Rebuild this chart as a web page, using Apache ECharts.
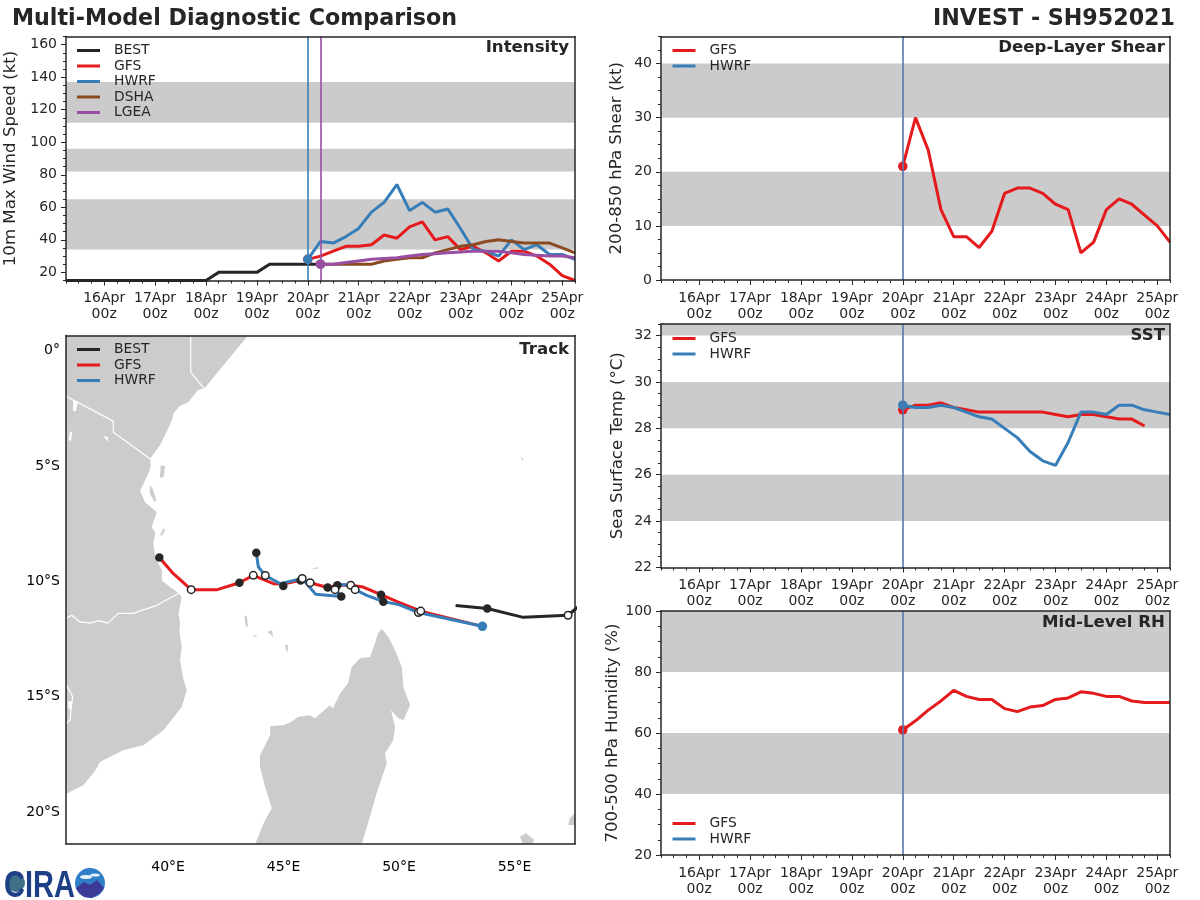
<!DOCTYPE html>
<html>
<head>
<meta charset="utf-8">
<title>Multi-Model Diagnostic Comparison</title>
<script src="https://cdn.jsdelivr.net/npm/echarts@6/dist/echarts.min.js"></script>
<style>
html, body { margin: 0; padding: 0; background: #fff; }
#main { width: 1200px; height: 900px; }
</style>
</head>
<body>
<div id="main"></div>
<script>
// hours after 16Apr 00z
const dayLabels = ['16Apr', '17Apr', '18Apr', '19Apr', '20Apr', '21Apr', '22Apr', '23Apr', '24Apr', '25Apr']

// intensity (kt), 6-hourly. BEST from 15Apr 06z, models from 20Apr 00z / 06z
const bestWind = [15, 15, 15, 15, 15, 15, 15, 15, 15, 15, 15, 15, 20, 20, 20, 20, 25, 25, 25, 25, 25]
const gfsWind = [28, 30, 33, 36, 36, 37, 43, 41, 48, 51, 40, 42, 34, 36, 32, 27, 33, 33, 30, 25, 18, 15]
const hwrfWind = [28, 39, 38, 42, 47, 57, 63, 74, 58, 63, 57, 59, 47, 34, 33, 30, 40, 34, 37, 31, 31, 28]
const dshaWind = [25, 25, 25, 25, 25, 27, 28, 29, 29, 32, 34, 36, 37, 39, 40, 39, 38, 38, 38, 35, 32]
const lgeaWind = [25, 25, 26, 27, 28, 28.5, 29, 30, 31, 31.5, 32, 32.5, 33, 33, 33, 32, 31, 30.5, 30, 30, 29]

const gfsShear = [21, 30, 24, 13, 8, 8, 6, 9, 16, 17, 17, 16, 14, 13, 5, 7, 13, 15, 14, 12, 10, 7]
const gfsSst = [28.8, 29, 29, 29.1, 28.9, 28.8, 28.7, 28.7, 28.7, 28.7, 28.7, 28.7, 28.6, 28.5, 28.6, 28.6, 28.5, 28.4, 28.4, 28.1]
const hwrfSst = [29, 28.9, 28.9, 29, 28.9, 28.7, 28.5, 28.4, 28, 27.6, 27, 26.6, 26.4, 27.4, 28.7, 28.7, 28.6, 29, 29, 28.8, 28.7, 28.6]
const gfsRh = [61, 64, 67.5, 70.5, 74, 72, 71, 71, 68, 67, 68.5, 69, 71, 71.5, 73.5, 73, 72, 72, 70.5, 70, 70, 70]

const windBands = [[34, 65], [82, 96], [112, 137]]
const shearBands = [[10, 20], [30, 40]]
const sstBands = [[24, 26], [28, 30], [32, 32.5]]
const rhBands = [[40, 60], [80, 100]]

// track, [lon, lat]
const bestTrack = [[58.0, -10.9], [57.32, -11.47], [55.38, -11.56], [53.82, -11.18], [52.45, -11.05]]
const gfsTrack = [[53.61, -11.95], [50.94, -11.29], [49.97, -10.9], [49.22, -10.58], [48.45, -10.25], [47.91, -10.17], [47.33, -10.17], [46.91, -10.27], [46.15, -10.06], [45.74, -9.96], [44.99, -10.12], [44.56, -10.1], [43.69, -9.74], [43.09, -10.06], [42.13, -10.36], [41.0, -10.36], [40.23, -9.67], [39.62, -8.97]]
const hwrfTrack = [[53.61, -11.95], [50.84, -11.35], [49.97, -11.0], [49.32, -10.88], [48.6, -10.61], [48.1, -10.36], [47.66, -10.14], [47.32, -10.17], [47.23, -10.36], [47.5, -10.66], [46.39, -10.56], [45.81, -9.88], [44.85, -10.1], [44.21, -9.75], [43.91, -9.38], [43.82, -8.76]]
const filledPoints = [[39.62, -8.97], [43.09, -10.06], [44.99, -10.2], [45.74, -9.96], [46.91, -10.27], [47.33, -10.17], [47.5, -10.66], [49.22, -10.58], [49.32, -10.88], [43.82, -8.76], [53.82, -11.18]]
const openPoints = [[41.0, -10.36], [43.69, -9.74], [44.21, -9.75], [45.81, -9.88], [46.15, -10.06], [47.23, -10.36], [47.91, -10.17], [48.1, -10.36], [50.84, -11.35], [50.94, -11.29], [57.32, -11.47]]

// land outlines, [lon, lat]
const africa = [[35.58, 0.65], [43.46, 0.65], [41.56, -1.66], [41.3, -1.7], [41.1, -1.95], [40.88, -2.24], [40.5, -2.4], [40.23, -2.74], [40.16, -3.03], [39.97, -3.46], [39.65, -4.11], [39.22, -4.69], [39.25, -5.0], [39.15, -5.32], [38.79, -6.06], [39.0, -6.57], [39.51, -7.0], [39.29, -7.65], [39.45, -7.9], [39.36, -8.35], [39.44, -8.95], [39.73, -9.52], [39.73, -9.96], [40.16, -10.3], [40.45, -10.52], [40.59, -10.68], [40.45, -11.39], [40.52, -11.8], [40.49, -12.12], [40.59, -12.84], [40.52, -13.4], [40.64, -14.14], [40.81, -14.72], [40.59, -15.44], [39.8, -16.45], [38.93, -17.1], [38.06, -17.32], [37.06, -17.82], [36.85, -18.2], [36.33, -18.83], [35.68, -19.16], [35.58, -19.22]]
const madagascar = [[49.25, -12.05], [49.54, -12.41], [49.83, -12.99], [50.12, -13.71], [50.19, -14.58], [50.48, -15.37], [50.19, -16.02], [49.97, -15.93], [49.65, -15.58], [49.83, -16.31], [49.75, -16.88], [49.39, -17.45], [49.47, -17.88], [49.03, -19.18], [48.74, -20.2], [48.39, -21.38], [43.77, -21.38], [44.2, -20.35], [44.49, -19.83], [44.2, -18.9], [43.98, -18.04], [43.98, -17.53], [44.42, -16.67], [44.42, -16.28], [44.99, -16.23], [45.3, -16.1], [45.64, -15.87], [46.15, -15.8], [46.36, -15.93], [47.01, -15.37], [47.14, -15.5], [47.45, -14.85], [47.79, -14.42], [47.95, -13.71], [48.31, -13.33], [48.74, -13.28], [48.96, -12.68], [49.09, -12.25]]
const islands = [
    [[39.68, -4.98], [39.87, -5.0], [39.8, -5.5], [39.65, -5.5]],
    [[39.2, -5.85], [39.32, -5.95], [39.5, -6.5], [39.4, -6.55], [39.22, -6.2]],
    [[39.65, -8.0], [39.8, -7.7], [39.87, -7.75], [39.75, -8.02]],
    [[43.3, -11.47], [43.42, -11.55], [43.46, -12.0], [43.35, -11.9]],
    [[43.64, -12.34], [43.85, -12.36], [43.8, -12.42]],
    [[44.29, -12.2], [44.5, -12.12], [44.55, -12.42], [44.42, -12.28]],
    [[45.06, -12.73], [45.2, -12.78], [45.17, -13.07], [45.1, -12.95]],
    [[46.2, -9.45], [46.5, -9.38], [46.5, -9.45]],
    [[55.25, -4.6], [55.4, -4.7], [55.35, -4.75]],
    [[55.24, -21.05], [55.5, -20.9], [55.84, -21.2], [55.8, -21.38], [55.35, -21.38]],
    [[57.62, -20.05], [57.62, -20.56], [57.32, -20.56], [57.4, -20.25]]
]
const lakes = [
    [[35.9, -2.15], [36.1, -2.2], [36.0, -2.65], [35.88, -2.6]],
    [[35.75, -3.55], [35.85, -3.5], [35.8, -3.9], [35.7, -3.9]],
    [[37.2, -3.7], [37.4, -3.75], [37.38, -3.95]],
    [[35.68, -15.2], [35.84, -15.2], [35.84, -15.55], [35.68, -15.5]]
]
const borders = [
    [[40.98, 0.65], [40.98, -0.94], [41.56, -1.65]],
    [[35.58, -1.98], [37.63, -3.06], [37.63, -3.54], [39.22, -4.69]],
    [[35.58, -11.6], [35.83, -11.47], [36.19, -11.76], [36.62, -11.81], [37.0, -11.7], [37.4, -11.81], [37.84, -11.39], [38.48, -11.39], [39.51, -11.04], [40.45, -10.53]],
    [[35.58, -14.46], [35.87, -15.0], [35.78, -15.67], [35.76, -16.02], [35.58, -16.15]]
]

const lonLabels = [40, 45, 50, 55]
const latLabels = [0, -5, -10, -15, -20]

const BLACK = '#262626'
const RED = '#e41a1c'
const BLUE = '#377eb8'
const BROWN = '#8c4a22'
const PURPLE = '#984ea3'
const GREY = '#cccccc'
const FONT = 'DejaVu Sans'

const X_MIN = -18
const X_MAX = 222

const grids = []
const xAxes = []
const yAxes = []
const series = []
const legends = []
const titles = []

function stepValues(start, end, step) {
    let list = []
    for (let v = start; v <= end + 1e-6; v += step) list.push(v)
    return list
}

// one panel = a grid with main axes, minor tick axes and top/right frame lines
function addPanel(box, xConf, yConf) {
    let g = grids.length
    grids.push({ left: box.left, top: box.top, width: box.width, height: box.height, show: false })
    let frameLine = { show: true, onZero: false, lineStyle: { color: BLACK, width: 1.5 } }
    let noLine = { show: false, onZero: false }
    let tickLine = { color: BLACK, width: 1 }
    let base = (extra, min, max) => Object.assign({
        type: 'value', gridIndex: g, min: min, max: max, scale: true, z: 10, silent: true,
        splitLine: { show: false }, axisLine: noLine, axisTick: { show: false }, axisLabel: { show: false }
    }, extra)
    let xi = xAxes.length
    xAxes.push(base({
        position: 'bottom', axisLine: frameLine,
        axisTick: xConf.ticks ? { show: true, length: 5, lineStyle: tickLine, customValues: xConf.ticks } : { show: false },
        axisLabel: {
            show: true, customValues: xConf.labelValues || xConf.ticks, formatter: xConf.format, margin: xConf.margin,
            color: xConf.color, fontSize: 14, lineHeight: 16, fontFamily: FONT, hideOverlap: false
        }
    }, xConf.min, xConf.max))
    if (xConf.minor) {
        xAxes.push(base({ position: 'bottom', axisTick: { show: true, length: 3, lineStyle: tickLine, customValues: xConf.minor } }, xConf.min, xConf.max))
    }
    xAxes.push(base({ position: 'top', axisLine: frameLine }, xConf.min, xConf.max))
    let yi = yAxes.length
    yAxes.push(base({
        position: 'left', axisLine: frameLine,
        name: yConf.name, nameLocation: 'middle', nameGap: yConf.nameGap,
        nameTextStyle: { color: BLACK, fontSize: 16.6, fontFamily: FONT },
        axisTick: yConf.ticks ? { show: true, length: 5, lineStyle: tickLine, customValues: yConf.ticks } : { show: false },
        axisLabel: {
            show: true, customValues: yConf.labelValues || yConf.ticks, formatter: yConf.format, margin: yConf.margin,
            color: yConf.color, fontSize: 14, fontFamily: FONT, hideOverlap: false
        }
    }, yConf.min, yConf.max))
    if (yConf.minor) {
        yAxes.push(base({ position: 'left', axisTick: { show: true, length: 3, lineStyle: tickLine, customValues: yConf.minor } }, yConf.min, yConf.max))
    }
    yAxes.push(base({ position: 'right', axisLine: frameLine }, yConf.min, yConf.max))
    return { xAxisIndex: xi, yAxisIndex: yi }
}

function addLabel(text, right, top) {
    titles.push({
        text: text, right: right, top: top, padding: 0,
        textStyle: { color: BLACK, fontSize: 16.6, fontWeight: 'bold', fontFamily: FONT }
    })
}

function addLegend(names, left, top) {
    legends.push({
        data: names, left: left, top: top, orient: 'vertical', padding: 0, itemGap: 0.5,
        itemWidth: 23, itemHeight: 3, icon: 'rect', selectedMode: false,
        textStyle: { color: BLACK, fontSize: 13.9, fontFamily: FONT, lineHeight: 15, padding: [0, 0, 0, 9] }
    })
}

// grey bands + vertical analysis lines, drawn under the curves
function addBands(axes, bands, vlines) {
    series.push(Object.assign({
        type: 'line', data: [], z: 1, silent: true,
        markArea: {
            silent: true, itemStyle: { color: '#cbcbcb' },
            data: bands.map(b => [{ yAxis: b[0] }, { yAxis: b[1] }])
        },
        markLine: {
            silent: true, symbol: 'none', animation: false, label: { show: false },
            data: vlines.map(v => ({ xAxis: v.x, lineStyle: { color: v.color, width: 1.6, type: 'solid' } }))
        }
    }, axes))
}

function addCurve(axes, name, color, startHour, values) {
    series.push(Object.assign({
        type: 'line', name: name, z: 3,
        data: values.map((v, i) => [startHour + 6 * i, v]),
        lineStyle: { color: color, width: 3 }, itemStyle: { color: color, opacity: 1, borderWidth: 0 },
        showSymbol: true, showAllSymbol: true, symbolSize: 9.5,
        symbol: (val, p) => (p.dataIndex === 0 && name !== 'BEST') ? 'circle' : 'none'
    }, axes))
}

const timeTicks = stepValues(0, 216, 24)
const timeConf = {
    min: X_MIN, max: X_MAX, ticks: timeTicks, minor: stepValues(X_MIN, X_MAX, 6), margin: 10, color: BLACK,
    format: v => dayLabels[v / 24] + '\n00z'
}

// ---------- Intensity ----------
const windAxes = addPanel({ left: 66, top: 36.5, width: 509, height: 244 }, timeConf, {
    min: 15, max: 165, ticks: stepValues(20, 160, 20), minor: stepValues(15, 165, 5), margin: 9, color: BLACK,
    name: '10m Max Wind Speed (kt)', nameGap: 47, format: v => String(v)
})
addBands(windAxes, windBands, [{ x: 96, color: BLUE }, { x: 102, color: PURPLE }])
addCurve(windAxes, 'BEST', BLACK, X_MIN, bestWind)
addCurve(windAxes, 'GFS', RED, 96, gfsWind)
addCurve(windAxes, 'HWRF', BLUE, 96, hwrfWind)
addCurve(windAxes, 'DSHA', BROWN, 102, dshaWind)
addCurve(windAxes, 'LGEA', PURPLE, 102, lgeaWind)
addLegend(['BEST', 'GFS', 'HWRF', 'DSHA', 'LGEA'], 77, 43)
addLabel('Intensity', 631, 39.5)

// ---------- Track ----------
const trackAxes = addPanel({ left: 66, top: 335.5, width: 509, height: 508.5 }, {
    min: 35.58, max: 57.62, labelValues: lonLabels, margin: 15, color: '#000',
    format: v => v + '°E'
}, {
    min: -21.38, max: 0.65, labelValues: latLabels, margin: 6, color: '#000',
    format: v => v === 0 ? '0°' : (-v) + '°S'
})
function addPolygons(polys, color) {
    series.push(Object.assign({
        type: 'custom', z: 1, silent: true, clip: true,
        data: polys.map(p => p[0]),
        renderItem: (params, api) => ({
            type: 'polygon',
            shape: { points: polys[params.dataIndex].map(c => api.coord(c)) },
            style: { fill: color }
        })
    }, trackAxes))
}
addPolygons([africa, madagascar].concat(islands), GREY)
addPolygons(lakes, '#fff')
borders.forEach(b => {
    series.push(Object.assign({
        type: 'line', z: 2, silent: true, data: b, showSymbol: false,
        lineStyle: { color: '#fff', width: 1.2 }
    }, trackAxes))
})
function addTrack(name, color, values) {
    series.push(Object.assign({
        type: 'line', name: name, z: 3, data: values, clip: true,
        lineStyle: { color: color, width: 3 }, itemStyle: { color: color },
        showSymbol: false
    }, trackAxes))
}
addTrack('BEST', BLACK, bestTrack)
addTrack('GFS', RED, gfsTrack)
addTrack('HWRF', BLUE, hwrfTrack)
series.push(Object.assign({
    type: 'scatter', z: 4, silent: true, data: filledPoints, symbolSize: 8.5, itemStyle: { color: BLACK, opacity: 1 }
}, trackAxes))
series.push(Object.assign({
    type: 'scatter', z: 4, silent: true, data: openPoints, symbolSize: 7.5,
    itemStyle: { color: '#fff', borderColor: BLACK, borderWidth: 1.5, opacity: 1 }
}, trackAxes))
series.push(Object.assign({
    type: 'scatter', z: 5, silent: true, data: [hwrfTrack[0]], symbolSize: 9.5, itemStyle: { color: BLUE, opacity: 1 }
}, trackAxes))
addLegend(['BEST', 'GFS', 'HWRF'], 77, 342)
addLabel('Track', 631, 341)

// ---------- Shear ----------
const rightBox = { left: 661, width: 509 }
const VLINE = '#5577ae'
const shearAxes = addPanel(Object.assign({ top: 36.5, height: 243.5 }, rightBox), timeConf, {
    min: 0, max: 45, ticks: stepValues(0, 40, 10), minor: stepValues(0, 45, 2.5), margin: 9, color: BLACK,
    name: '200-850 hPa Shear (kt)', nameGap: 36, format: v => String(v)
})
addBands(shearAxes, shearBands, [{ x: 96, color: VLINE }])
addCurve(shearAxes, 'GFS', RED, 96, gfsShear)
addLegend(['GFS', 'HWRF'], 672.5, 43)
addLabel('Deep-Layer Shear', 35, 39.5)

// ---------- SST ----------
const sstAxes = addPanel(Object.assign({ top: 324, height: 243.5 }, rightBox), timeConf, {
    min: 22, max: 32.5, ticks: stepValues(22, 32, 2), minor: stepValues(22, 32.5, 0.5), margin: 9, color: BLACK,
    name: 'Sea Surface Temp (°C)', nameGap: 35, format: v => String(v)
})
addBands(sstAxes, sstBands, [{ x: 96, color: VLINE }])
addCurve(sstAxes, 'GFS', RED, 96, gfsSst)
addCurve(sstAxes, 'HWRF', BLUE, 96, hwrfSst)
addLegend(['GFS', 'HWRF'], 672.5, 331)
addLabel('SST', 35, 327)

// ---------- RH ----------
const rhAxes = addPanel(Object.assign({ top: 611, height: 244 }, rightBox), timeConf, {
    min: 20, max: 100, ticks: stepValues(20, 100, 20), minor: stepValues(20, 100, 5), margin: 9, color: BLACK,
    name: '700-500 hPa Humidity (%)', nameGap: 32, format: v => String(v)
})
addBands(rhAxes, rhBands, [{ x: 96, color: VLINE }])
addCurve(rhAxes, 'GFS', RED, 96, gfsRh)
addLegend(['GFS', 'HWRF'], 672.5, 816)
addLabel('Mid-Level RH', 35, 614)

// big titles
titles.push({
    text: 'Multi-Model Diagnostic Comparison', left: 12, top: 8, padding: 0,
    textStyle: { color: BLACK, fontSize: 22.2, fontWeight: 'bold', fontFamily: FONT }
})
titles.push({
    text: 'INVEST - SH952021', right: 25, top: 8, padding: 0,
    textStyle: { color: BLACK, fontSize: 22.2, fontWeight: 'bold', fontFamily: FONT }
})

// logo, roughly
const logo = [
    { type: 'circle', shape: { cx: 16, cy: 883, r: 9 }, style: { fill: '#3f6f86' } },
    { type: 'text', x: 4, y: 869, scaleY: 1.25, style: { x: 0, y: 0, text: 'CIRA', fill: '#1d3f86', font: 'bold 29px "Liberation Sans"' } },
    { type: 'circle', shape: { cx: 90, cy: 883, r: 15 }, style: { fill: '#2f7fc8' } },
    { type: 'polygon', shape: { points: [[76, 888], [84, 882], [90, 885], [97, 880], [104, 888], [100, 893], [92, 898], [84, 897], [79, 893]] }, style: { fill: '#3c3a96' } },
    { type: 'ellipse', shape: { cx: 86, cy: 877, rx: 6, ry: 2 }, style: { fill: '#e8f2fa' } },
    { type: 'ellipse', shape: { cx: 95, cy: 875, rx: 5, ry: 1.6 }, style: { fill: '#e8f2fa' } }
]

const chart = echarts.init(document.getElementById('main'), null, { renderer: 'canvas' })
chart.setOption({
    animation: false,
    backgroundColor: '#fff',
    textStyle: { fontFamily: FONT },
    title: titles,
    legend: legends,
    grid: grids,
    xAxis: xAxes,
    yAxis: yAxes,
    series: series,
    graphic: logo
})
</script>
</body>
</html>
